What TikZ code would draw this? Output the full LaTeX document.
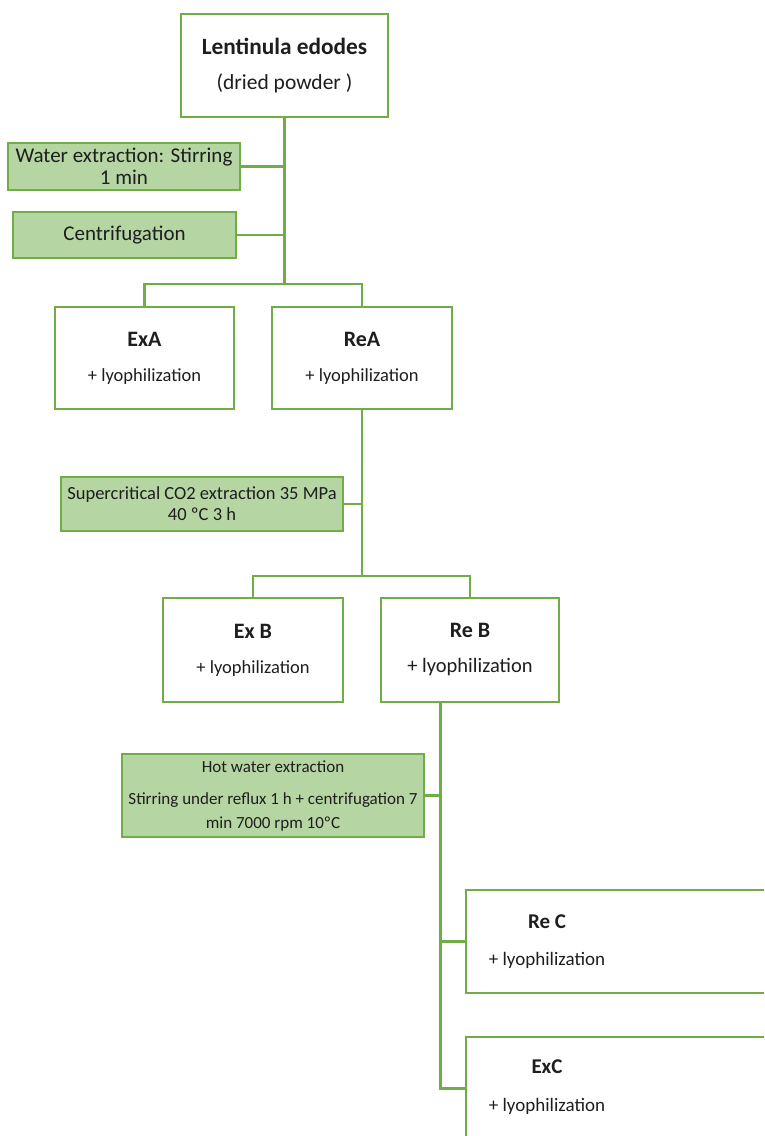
\documentclass[tikz,border=0pt]{standalone}
\usepackage{fontspec}
\setmainfont{Carlito}
\usetikzlibrary{calc}
\definecolor{gline}{HTML}{70AD47}
\definecolor{gfill}{HTML}{B5D6A3}
\definecolor{tcol}{HTML}{1E1E1E}
\newcommand{\fsz}[2]{\fontsize{#1}{#2}\selectfont}
\begin{document}
\begin{tikzpicture}[x=1pt,y=-1pt,
  wbox/.style={draw=gline, line width=2.5pt, fill=white, inner sep=0pt, align=center, text=tcol},
  pbox/.style={draw=gline, line width=2.5pt, fill=gfill, inner sep=0pt, align=center, text=tcol},
  conn/.style={draw=gline, line width=2.2pt},
  lbl/.style={text=tcol, align=center, inner sep=0pt}]
\useasboundingbox (0,0) rectangle (764,1136);
\fill[white] (0,0) rectangle (764,1136);
\clip (0,0) rectangle (764,1136);

% boxes
\node[wbox, minimum width=207pt, minimum height=103pt, font=\fsz{21.5}{35}] (top) at (284.5,65.5)
  {{\bfseries\fsz{23.3}{35}Lentinula edodes}\\(dried powder )};
\node[pbox, minimum width=232pt, minimum height=47pt, font=\fsz{21}{22}] (water) at (124,166.5)
  {Water extraction: Stirring\\1 min};
\node[pbox, minimum width=223pt, minimum height=46pt, font=\fsz{21}{22}] (centr) at (124.5,235)
  {Centrifugation};
\node[wbox, minimum width=179pt, minimum height=102pt, font=\fsz{18.5}{35}] (exA) at (144.5,358)
  {{\bfseries\fsz{22}{35}ExA}\\+ lyophilization};
\node[wbox, minimum width=180pt, minimum height=102pt, font=\fsz{18.5}{35}] (reA) at (362,358)
  {{\bfseries\fsz{22}{35}ReA}\\+ lyophilization};
\node[pbox, minimum width=282pt, minimum height=54pt, font=\fsz{18.5}{21}] (super) at (202,504)
  {Supercritical CO2 extraction 35 MPa\\40 ºC 3 h};
\node[wbox, minimum width=180pt, minimum height=104pt, font=\fsz{18.5}{35}] (exB) at (253,650)
  {{\bfseries\fsz{22}{35}Ex B}\\+ lyophilization};
\node[wbox, minimum width=178pt, minimum height=104pt, font=\fsz{20.5}{35}] (reB) at (470,650)
  {{\bfseries\fsz{22}{35}Re B}\\+ lyophilization};
\node[pbox, minimum width=302pt, minimum height=83pt, font=\fsz{17}{24}] (hot) at (273,795.5)
  {Hot water extraction\\[8pt]Stirring under reflux 1 h + centrifugation 7\\min 7000 rpm 10ºC};
\node[wbox, minimum width=324pt, minimum height=103pt] (reC) at (628,941.5) {};
\node[lbl, font=\fsz{19}{37}] (reCt) at (547,941.5)
  {{\bfseries\fsz{21}{37}Re C}\\+ lyophilization};
\node[wbox, minimum width=324pt, minimum height=103pt] (exC) at (628,1088.5) {};
\node[lbl, font=\fsz{19}{38}] (exCt) at (547,1087.5)
  {{\bfseries\fsz{21}{38}ExC}\\+ lyophilization};

% junctions
\coordinate (j1) at (284.5,284);
\coordinate (j2) at (362,576);
\coordinate (rbs) at ($(reB.south west)!0.337!(reB.south east)$);

% connectors
\draw[conn] (top.south) -- (j1);
\draw[conn] (water.east) -- (water.east -| j1);
\draw[conn] (centr.east) -- (centr.east -| j1);
\draw[conn] (exA.north) -- (exA.north |- j1) -- (reA.north |- j1) -- (reA.north);
\draw[conn] (reA.south) -- (j2);
\draw[conn] (super.east) -- (super.east -| j2);
\draw[conn] (exB.north) -- (exB.north |- j2) -- (reB.north |- j2) -- (reB.north);
\draw[conn] (rbs) -- (rbs |- exC.west) -- (exC.west);
\draw[conn] (hot.east) -- (hot.east -| rbs);
\draw[conn] (reC.west) -- (reC.west -| rbs);
\end{tikzpicture}
\end{document}
